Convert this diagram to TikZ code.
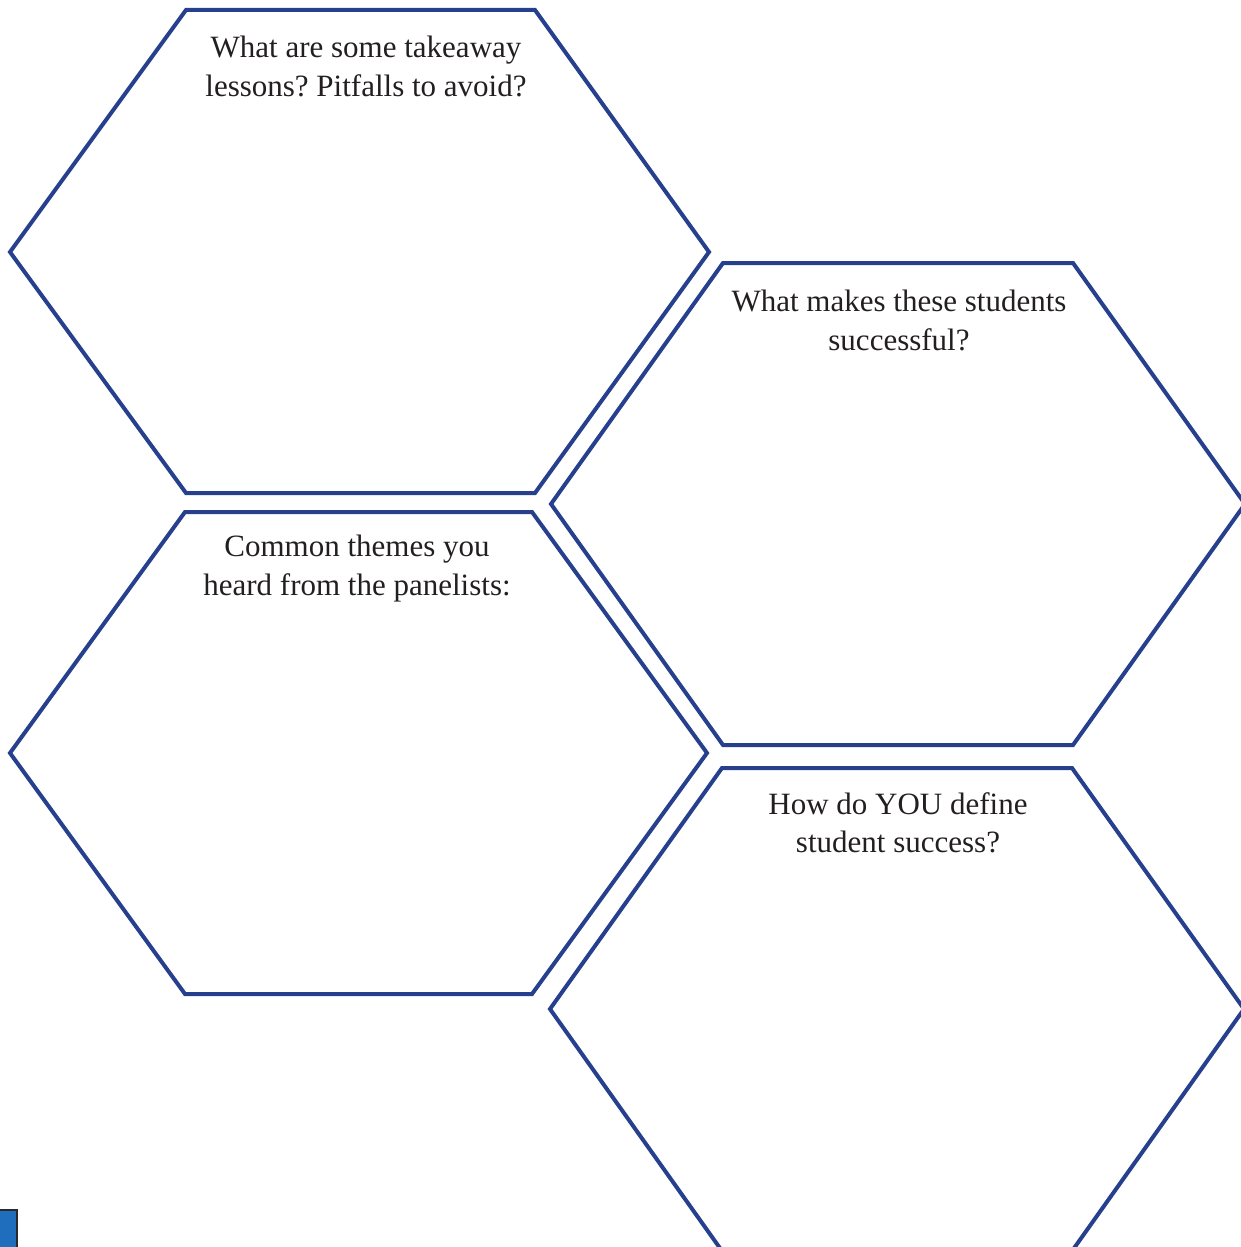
\documentclass[tikz,border=0pt]{standalone}
\usepackage{fontspec}
\setmainfont{Liberation Serif}
\frenchspacing
\definecolor{hexblue}{RGB}{38,64,142}
\definecolor{txt}{RGB}{35,31,32}
\definecolor{sqblue}{RGB}{31,110,190}
\definecolor{sqedge}{RGB}{40,40,45}
\begin{document}
\begin{tikzpicture}[x=1pt,y=-1pt,
  hex/.style={draw=hexblue,line width=4pt,line join=miter},
  qtext/.style={text=txt,align=center,anchor=north,inner sep=0pt,font=\fontsize{31}{38.5}\selectfont}]
\useasboundingbox (0,0) rectangle (1241,1247);
\begin{scope}
\clip (0,0) rectangle (1241,1247);
% top-left hexagon
\draw[hex] (186,10) -- (535,10) -- (709,252) -- (535,493) -- (186,493) -- (10,252) -- cycle;
% right upper hexagon
\draw[hex] (723,263) -- (1073,263) -- (1245,504) -- (1073,745) -- (723,745) -- (551,504) -- cycle;
% left middle hexagon
\draw[hex] (185,512) -- (532,512) -- (707,753) -- (532,994) -- (185,994) -- (10,753) -- cycle;
% right lower hexagon
\draw[hex] (722,768) -- (1072,768) -- (1244,1009) -- (1072,1251) -- (722,1251) -- (550,1009) -- cycle;
% small square
\draw[fill=sqblue,draw=sqedge,line width=1.5pt] (-5,1210) rectangle (17,1260);
\end{scope}
\node[qtext] (t1) at (366,36) {What are some takeaway\\lessons? Pitfalls to avoid?};
\node[qtext] (t2) at (899,290) {What makes these students\\successful?};
\node[qtext] (t3) at (357,535) {Common themes you\\heard from the panelists:};
\node[qtext] (t4) at (898,792) {How do YOU define\\student success?};
\end{tikzpicture}
\end{document}
